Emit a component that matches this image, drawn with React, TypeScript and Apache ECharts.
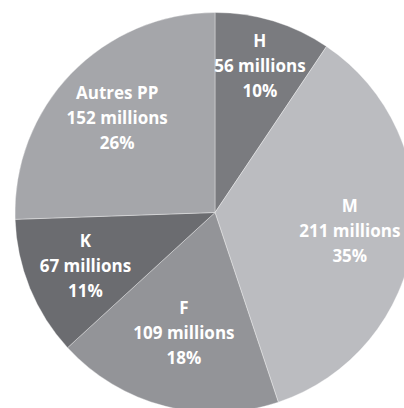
import React, { useEffect, useRef } from "react";
import * as echarts from "echarts";

const categories = ["H", "M", "F", "K", "Autres PP"];
const values = [56, 211, 109, 67, 152];
const pctLabels = ["10%", "35%", "18%", "11%", "26%"];
const colors = ["#7a7b7f", "#bbbcc0", "#939498", "#6b6c70", "#a5a6aa"];
// radial position of each label, as a fraction of the radius
const labelRadiusFrac = [0.77, 0.68, 0.62, 0.7, 0.68];

const CX = 215;
const CY = 212.5;
const R = 200;

export default function App() {
  const ref = useRef<HTMLDivElement>(null);
  useEffect(() => {
    if (!ref.current) return;
    const chart = echarts.init(ref.current, null, { renderer: "svg" });
    const total = values.reduce((a, b) => a + b, 0);
    const mids: number[] = [];
    let acc = 0;
    values.forEach((v) => {
      mids.push(((acc + v / 2) / total) * Math.PI * 2);
      acc += v;
    });
    chart.setOption({
      animation: false,
      series: [
        {
          type: "pie",
          center: [CX, CY],
          radius: [0, R],
          startAngle: 90,
          clockwise: true,
          avoidLabelOverlap: false,
          itemStyle: { borderColor: "rgba(255,255,255,0.35)", borderWidth: 1 },
          label: {
            show: true,
            position: "inside",
            color: "#ffffff",
            fontFamily: "'Open Sans', sans-serif",
            fontWeight: "bold",
            fontSize: 17,
            lineHeight: 25,
            align: "center",
            formatter: (p: any) =>
              `${categories[p.dataIndex]}\n${values[p.dataIndex]} millions\n${pctLabels[p.dataIndex]}`,
          },
          labelLine: { show: false },
          labelLayout: (p: any) => {
            const i = p.dataIndex;
            const a = mids[i];
            const r = labelRadiusFrac[i] * R;
            return { x: CX + r * Math.sin(a), y: CY - r * Math.cos(a), align: "center", verticalAlign: "middle" };
          },
          emphasis: { disabled: true },
          data: categories.map((c, i) => ({
            name: c,
            value: values[i],
            itemStyle: { color: colors[i] },
          })),
        },
      ],
    });
    return () => chart.dispose();
  }, []);
  return (
    <div
      ref={ref}
      style={{ position: "fixed", left: 0, top: 0, width: 404, height: 408, background: "#fff" }}
    />
  );
}
